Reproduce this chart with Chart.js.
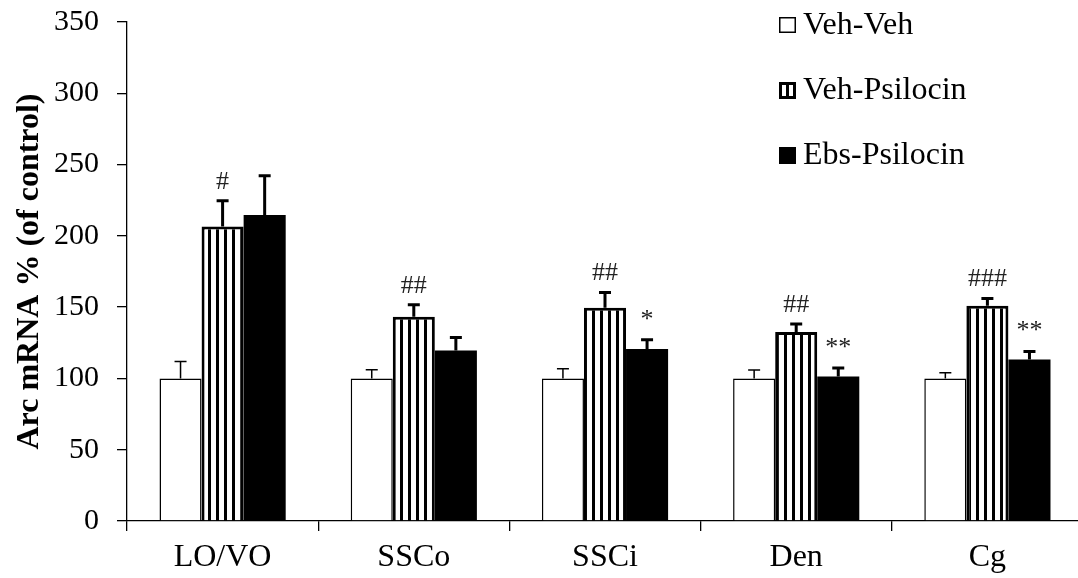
<!DOCTYPE html>
<html>
<head>
<meta charset="utf-8">
<script src="https://cdn.jsdelivr.net/npm/chart.js@4"></script>
<style>
    html, body { margin: 0; padding: 0; background: #fff; overflow: hidden; }
    #wrap { width: 1090px; height: 578px; }
</style>
</head>
<body>
<div id="wrap"><canvas id="arcChart" width="1090" height="578"></canvas></div>
<script>
// Regions on the x axis
const regions = ['LO/VO', 'SSCo', 'SSCi', 'Den', 'Cg'];

// Mean values (% of control) and SEM
const vehVeh = [100, 100, 100, 100, 100];
const vehVehErr = [11.9, 6.1, 6.8, 5.9, 4];
const vehPsilocin = [206.5, 143.2, 149.5, 132.5, 150.9];
const vehPsilocinErr = [18.2, 8.4, 10.8, 5.6, 5.2];
const ebsPsilocin = [214.7, 119.6, 120.6, 101.4, 113.3];
const ebsPsilocinErr = [27.5, 9.1, 6.5, 5.9, 5.6];

// Significance marks
const vehPsilocinMarks = ['#', '##', '##', '##', '###'];
const ebsPsilocinMarks = ['', '', '*', '**', '**'];

// y axis
const yMin = 0;
const yMax = 350;
const yStep = 50;

const FONT = '"Liberation Serif", "Times New Roman", serif';

// vertical stripe fill for Veh-Psilocin
function makeStripes() {
    const c = document.createElement('canvas');
    c.width = 8;
    c.height = 8;
    const g = c.getContext('2d');
    g.fillStyle = '#fff';
    g.fillRect(0, 0, 8, 8);
    g.fillStyle = '#000';
    g.fillRect(0, 0, 3, 8);
    return g.createPattern(c, 'repeat');
}

const ctx = document.getElementById('arcChart').getContext('2d');
const stripes = makeStripes();

// Error bars + significance marks
const errorBars = {
    id: 'errorBars',
    afterDatasetsDraw(chart) {
        const c = chart.ctx;
        const yScale = chart.scales.y;
        chart.data.datasets.forEach((ds, i) => {
            const meta = chart.getDatasetMeta(i);
            meta.data.forEach((bar, j) => {
                const top = yScale.getPixelForValue(ds.data[j] + ds.errors[j]);
                c.save();
                c.strokeStyle = '#000';
                c.lineWidth = ds.errWidth;
                c.beginPath();
                c.moveTo(bar.x, bar.y);
                c.lineTo(bar.x, top);
                c.moveTo(bar.x - 6, top);
                c.lineTo(bar.x + 6, top);
                c.stroke();
                const mark = ds.marks ? ds.marks[j] : '';
                if (mark) {
                    c.fillStyle = '#222';
                    c.font = '26px ' + FONT;
                    c.textAlign = 'center';
                    c.textBaseline = 'alphabetic';
                    c.fillText(mark, bar.x, top - (mark[0] === '*' ? 13 : 12));
                }
                c.restore();
            });
        });
    }
};

// legend drawn in the top right corner
const sideLegend = {
    id: 'sideLegend',
    afterDraw(chart) {
        const c = chart.ctx;
        const x = 779;
        const baselines = [34, 99, 164];
        c.save();
        c.font = '32px ' + FONT;
        c.textBaseline = 'alphabetic';
        c.fillStyle = '#000';
        chart.data.datasets.forEach((ds, i) => {
            const b = baselines[i];
            const top = b - 17;
            if (i === 0) {
                c.fillStyle = '#fff';
                c.fillRect(x, top, 17, 16);
                c.strokeStyle = '#000';
                c.lineWidth = 1.5;
                c.strokeRect(x + 0.75, top + 0.75, 15.5, 14.5);
            } else if (i === 1) {
                c.fillStyle = '#000';
                c.fillRect(x, top, 17, 17);
                c.fillStyle = '#fff';
                c.fillRect(x + 3, top + 3, 4, 11);
                c.fillRect(x + 10, top + 3, 4, 11);
            } else {
                c.fillStyle = '#000';
                c.fillRect(x, top, 17, 17);
            }
            c.fillStyle = '#000';
            c.fillText(ds.label, x + 24, b);
        });
        c.restore();
    }
};

new Chart(ctx, {
    type: 'bar',
    data: {
        labels: regions,
        datasets: [
            {
                label: 'Veh-Veh',
                data: vehVeh,
                errors: vehVehErr,
                errWidth: 1.5,
                backgroundColor: '#fff',
                borderColor: '#000',
                borderWidth: 1.5
            },
            {
                label: 'Veh-Psilocin',
                data: vehPsilocin,
                errors: vehPsilocinErr,
                marks: vehPsilocinMarks,
                errWidth: 3,
                backgroundColor: stripes,
                borderColor: '#000',
                borderWidth: 3
            },
            {
                label: 'Ebs-Psilocin',
                data: ebsPsilocin,
                errors: ebsPsilocinErr,
                marks: ebsPsilocinMarks,
                errWidth: 3,
                backgroundColor: '#000',
                borderColor: '#000',
                borderWidth: 0
            }
        ]
    },
    options: {
        responsive: false,
        animation: false,
        categoryPercentage: 0.66,
        barPercentage: 1.0,
        layout: { padding: { top: 22, right: 7, left: 0, bottom: 0 } },
        plugins: {
            legend: { display: false },
            tooltip: { enabled: false }
        },
        scales: {
            x: {
                grid: { drawOnChartArea: false, color: '#000', tickLength: 10, lineWidth: 1.3 },
                border: { color: '#000', width: 1.3 },
                ticks: { font: { family: FONT, size: 32 }, color: '#000', padding: 7 },
                afterFit(s) { s.height = 57; s.paddingLeft = 0; s.paddingRight = 0; }
            },
            y: {
                min: yMin,
                max: yMax,
                ticks: { stepSize: yStep, font: { family: FONT, size: 30 }, color: '#000', padding: 18 },
                grid: { drawOnChartArea: false, color: '#000', tickLength: 10, lineWidth: 1.3 },
                border: { color: '#000', width: 1.3 },
                title: {
                    display: true,
                    text: 'Arc mRNA % (of control)',
                    color: '#000',
                    font: { family: FONT, size: 32, weight: 'bold' },
                    padding: { top: 11, bottom: 0 }
                },
                afterFit(s) { s.width = 127; s.paddingTop = 0; s.paddingBottom = 0; }
            }
        }
    },
    plugins: [errorBars, sideLegend]
});
</script>
</body>
</html>
